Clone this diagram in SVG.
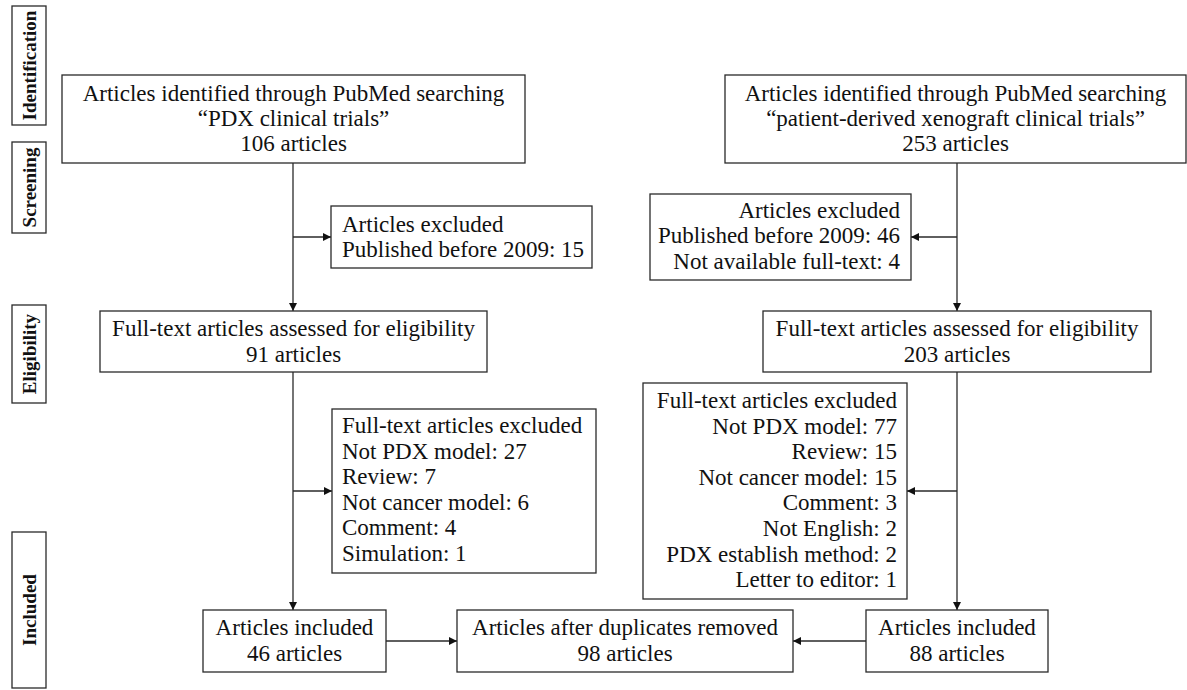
<svg xmlns="http://www.w3.org/2000/svg" width="1187" height="690" viewBox="0 0 1187 690">
<style>
  .box { fill: #ffffff; stroke: #2a2a2a; stroke-width: 1.3; }
  .t { font-family: "Liberation Serif", "Times New Roman", serif; font-size: 23px; fill: #111; }
  .c { text-anchor: middle; }
  .r { text-anchor: end; }
  .stage { font-family: "Liberation Serif", "Times New Roman", serif; font-size: 19px; font-weight: bold; fill: #111; text-anchor: middle; dominant-baseline: central; }
  .ln { stroke: #2a2a2a; stroke-width: 1.3; fill: none; }
</style>
<defs>
  <marker id="ah" viewBox="0 0 10 10" refX="10" refY="5" markerWidth="9" markerHeight="8" markerUnits="userSpaceOnUse" orient="auto">
    <path d="M0,0 L10,5 L0,10 z" fill="#111"/>
  </marker>
</defs>
<rect width="1187" height="690" fill="#ffffff"/>

<g id="stage-identification">
  <rect class="box" x="12" y="6" width="34" height="119"/>
  <text class="stage" transform="translate(29,65.5) rotate(-90)">Identification</text>
</g>
<g id="stage-screening">
  <rect class="box" x="12" y="142" width="34" height="91"/>
  <text class="stage" transform="translate(29,187.5) rotate(-90)">Screening</text>
</g>
<g id="stage-eligibility">
  <rect class="box" x="12" y="305" width="34" height="98"/>
  <text class="stage" transform="translate(29,354) rotate(-90)">Eligibility</text>
</g>
<g id="stage-included">
  <rect class="box" x="12" y="532" width="34" height="156"/>
  <text class="stage" transform="translate(29,610) rotate(-90)">Included</text>
</g>

<g id="connectors">
  <line class="ln" x1="293" y1="163" x2="293" y2="311" marker-end="url(#ah)"/>
  <line class="ln" x1="293" y1="237" x2="331" y2="237" marker-end="url(#ah)"/>
  <line class="ln" x1="957" y1="163" x2="957" y2="311" marker-end="url(#ah)"/>
  <line class="ln" x1="957" y1="237" x2="911" y2="237" marker-end="url(#ah)"/>
  <line class="ln" x1="293" y1="372" x2="293" y2="610" marker-end="url(#ah)"/>
  <line class="ln" x1="293" y1="491" x2="332" y2="491" marker-end="url(#ah)"/>
  <line class="ln" x1="957" y1="372" x2="957" y2="610" marker-end="url(#ah)"/>
  <line class="ln" x1="957" y1="491" x2="907" y2="491" marker-end="url(#ah)"/>
  <line class="ln" x1="386" y1="641" x2="457" y2="641" marker-end="url(#ah)"/>
  <line class="ln" x1="866" y1="641" x2="793" y2="641" marker-end="url(#ah)"/>
</g>

<g id="left-identified">
  <rect class="box" x="62" y="75" width="463" height="88"/>
  <text class="t c" x="293.5" y="101">Articles identified through PubMed searching</text>
  <text class="t c" x="293.5" y="126">“PDX clinical trials”</text>
  <text class="t c" x="293.5" y="151">106 articles</text>
</g>
<g id="right-identified">
  <rect class="box" x="725" y="75" width="461" height="88"/>
  <text class="t c" x="955.5" y="101">Articles identified through PubMed searching</text>
  <text class="t c" x="955.5" y="126">“patient-derived xenograft clinical trials”</text>
  <text class="t c" x="955.5" y="151">253 articles</text>
</g>
<g id="left-excluded-screening">
  <rect class="box" x="331" y="206" width="261" height="62"/>
  <text class="t" x="342" y="232">Articles excluded</text>
  <text class="t" x="342" y="257">Published before 2009: 15</text>
</g>
<g id="right-excluded-screening">
  <rect class="box" x="650" y="194" width="261" height="86"/>
  <text class="t r" x="900" y="218">Articles excluded</text>
  <text class="t r" x="900" y="243">Published before 2009: 46</text>
  <text class="t r" x="900" y="269">Not available full-text: 4</text>
</g>
<g id="left-fulltext">
  <rect class="box" x="100" y="311" width="387" height="61"/>
  <text class="t c" x="293.5" y="336">Full-text articles assessed for eligibility</text>
  <text class="t c" x="293.5" y="362">91 articles</text>
</g>
<g id="right-fulltext">
  <rect class="box" x="763" y="311" width="388" height="61"/>
  <text class="t c" x="957" y="336">Full-text articles assessed for eligibility</text>
  <text class="t c" x="957" y="362">203 articles</text>
</g>
<g id="left-excluded-eligibility">
  <rect class="box" x="332" y="409" width="264" height="164"/>
  <text class="t" x="342" y="433">Full-text articles excluded</text>
  <text class="t" x="342" y="459">Not PDX model: 27</text>
  <text class="t" x="342" y="484">Review: 7</text>
  <text class="t" x="342" y="510">Not cancer model: 6</text>
  <text class="t" x="342" y="535">Comment: 4</text>
  <text class="t" x="342" y="561">Simulation: 1</text>
</g>
<g id="right-excluded-eligibility">
  <rect class="box" x="643" y="383" width="264" height="216"/>
  <text class="t r" x="897" y="408">Full-text articles excluded</text>
  <text class="t r" x="897" y="434">Not PDX model: 77</text>
  <text class="t r" x="897" y="459">Review: 15</text>
  <text class="t r" x="897" y="485">Not cancer model: 15</text>
  <text class="t r" x="897" y="510">Comment: 3</text>
  <text class="t r" x="897" y="536">Not English: 2</text>
  <text class="t r" x="897" y="562">PDX establish method: 2</text>
  <text class="t r" x="897" y="587">Letter to editor: 1</text>
</g>
<g id="left-included">
  <rect class="box" x="203" y="610" width="183" height="62"/>
  <text class="t c" x="294.5" y="635">Articles included</text>
  <text class="t c" x="294.5" y="661">46 articles</text>
</g>
<g id="after-duplicates">
  <rect class="box" x="457" y="610" width="336" height="62"/>
  <text class="t c" x="625" y="635">Articles after duplicates removed</text>
  <text class="t c" x="625" y="661">98 articles</text>
</g>
<g id="right-included">
  <rect class="box" x="866" y="610" width="182" height="62"/>
  <text class="t c" x="957" y="635">Articles included</text>
  <text class="t c" x="957" y="661">88 articles</text>
</g>
</svg>
